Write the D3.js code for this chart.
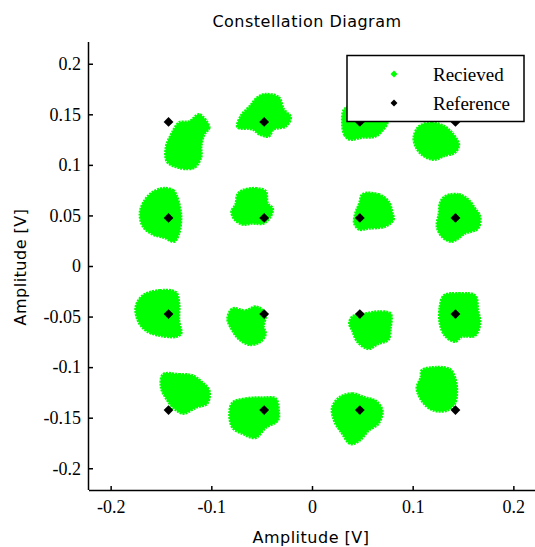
<!DOCTYPE html>
<html><head><meta charset="utf-8">
<script src="https://cdn.jsdelivr.net/npm/d3@7"></script>
<style>html,body{margin:0;padding:0;background:#fff;}</style>
</head><body>
<svg id="chart" width="535" height="547"></svg>
<script>
// Tick values
const xTicks = [-0.2, -0.1, 0, 0.1, 0.2];
const yTicks = [0.2, 0.15, 0.1, 0.05, 0, -0.05, -0.1, -0.15, -0.2];
const xTickLabels = ["-0.2", "-0.1", "0", "0.1", "0.2"];
const yTickLabels = ["0.2", "0.15", "0.1", "0.05", "0", "-0.05", "-0.1", "-0.15", "-0.2"];

// Reference constellation levels (16-QAM)
const refLevels = [-0.1425, -0.0475, 0.0475, 0.1425];

// Received clusters: outlines of the received point clouds [I, Q] in volts
const clusterA = [[-0.112,0.150],[-0.102,0.137],[-0.107,0.130],[-0.110,0.118],[-0.110,0.108],[-0.117,0.097],[-0.132,0.097],[-0.144,0.103],[-0.145,0.118],[-0.140,0.130],[-0.132,0.142],[-0.122,0.143]];
const clusterB = [[-0.046,0.170],[-0.033,0.167],[-0.028,0.155],[-0.021,0.147],[-0.026,0.138],[-0.038,0.135],[-0.043,0.128],[-0.052,0.130],[-0.059,0.135],[-0.074,0.137],[-0.071,0.148],[-0.062,0.158],[-0.054,0.167]];
const clusterC = [[-0.148,0.077],[-0.138,0.075],[-0.135,0.071],[-0.132,0.062],[-0.130,0.049],[-0.132,0.032],[-0.137,0.024],[-0.147,0.028],[-0.158,0.031],[-0.168,0.039],[-0.171,0.052],[-0.168,0.062],[-0.160,0.072]];
const clusterD = [[-0.069,0.075],[-0.056,0.077],[-0.046,0.074],[-0.044,0.062],[-0.039,0.057],[-0.041,0.049],[-0.048,0.042],[-0.059,0.042],[-0.069,0.041],[-0.077,0.046],[-0.080,0.054],[-0.076,0.061],[-0.074,0.071]];
const clusterE = [[0.030,0.142],[0.032,0.130],[0.037,0.125],[0.050,0.127],[0.063,0.128],[0.071,0.135],[0.075,0.142],[0.074,0.149],[0.064,0.157],[0.047,0.161],[0.032,0.155]];
const clusterF = [[0.106,0.138],[0.119,0.142],[0.132,0.138],[0.139,0.132],[0.146,0.120],[0.142,0.112],[0.132,0.109],[0.121,0.105],[0.109,0.110],[0.103,0.118],[0.101,0.127]];
const clusterG = [[0.050,0.071],[0.066,0.071],[0.076,0.064],[0.080,0.052],[0.081,0.046],[0.073,0.039],[0.056,0.037],[0.047,0.036],[0.042,0.042],[0.043,0.052],[0.047,0.062]];
const clusterH = [[0.132,0.069],[0.146,0.071],[0.155,0.066],[0.162,0.057],[0.167,0.049],[0.165,0.037],[0.152,0.032],[0.139,0.024],[0.129,0.029],[0.124,0.039],[0.126,0.052],[0.127,0.062]];
const clusterI = [[-0.168,-0.029],[-0.151,-0.024],[-0.135,-0.026],[-0.132,-0.037],[-0.132,-0.054],[-0.130,-0.067],[-0.135,-0.070],[-0.151,-0.069],[-0.165,-0.064],[-0.173,-0.054],[-0.175,-0.040]];
const clusterJ = [[-0.079,-0.042],[-0.066,-0.044],[-0.056,-0.040],[-0.046,-0.047],[-0.048,-0.060],[-0.046,-0.067],[-0.051,-0.075],[-0.062,-0.078],[-0.072,-0.073],[-0.079,-0.064],[-0.084,-0.052]];
const clusterK = [[-0.148,-0.107],[-0.132,-0.107],[-0.119,-0.108],[-0.109,-0.115],[-0.102,-0.123],[-0.104,-0.136],[-0.115,-0.140],[-0.128,-0.146],[-0.137,-0.141],[-0.145,-0.131],[-0.150,-0.120]];
const clusterL = [[-0.079,-0.135],[-0.066,-0.131],[-0.049,-0.130],[-0.036,-0.131],[-0.033,-0.143],[-0.034,-0.153],[-0.046,-0.160],[-0.056,-0.170],[-0.069,-0.166],[-0.079,-0.160],[-0.082,-0.146]];
const clusterM = [[0.040,-0.050],[0.053,-0.047],[0.066,-0.045],[0.078,-0.047],[0.078,-0.062],[0.076,-0.073],[0.066,-0.077],[0.056,-0.082],[0.045,-0.075],[0.040,-0.064],[0.037,-0.057]];
const clusterN = [[0.131,-0.029],[0.146,-0.027],[0.162,-0.029],[0.165,-0.044],[0.167,-0.057],[0.162,-0.069],[0.149,-0.070],[0.142,-0.075],[0.132,-0.069],[0.127,-0.057],[0.127,-0.040]];
const clusterO = [[0.109,-0.103],[0.122,-0.100],[0.137,-0.102],[0.142,-0.110],[0.144,-0.123],[0.142,-0.136],[0.134,-0.143],[0.121,-0.143],[0.111,-0.136],[0.104,-0.121],[0.108,-0.110]];
const clusterP = [[0.027,-0.130],[0.040,-0.126],[0.053,-0.130],[0.063,-0.133],[0.070,-0.143],[0.066,-0.156],[0.056,-0.163],[0.047,-0.173],[0.038,-0.176],[0.030,-0.166],[0.022,-0.153],[0.020,-0.140]];
const clusters = [clusterA,clusterB,clusterC,clusterD,clusterE,clusterF,clusterG,clusterH,clusterI,clusterJ,clusterK,clusterL,clusterM,clusterN,clusterO,clusterP];

const legendLabels = ["Recieved", "Reference"];
const title = "Constellation Diagram";
const xLabel = "Amplitude [V]";
const yLabel = "Amplitude [V]";

const svg = d3.select("#chart");
const lim = 0.2215;
const x = d3.scaleLinear().domain([-lim, lim]).range([89, 535]);
const y = d3.scaleLinear().domain([-lim, lim]).range([490, 42]);

// received clusters
const line = d3.line().x(d => x(d[0])).y(d => y(d[1])).curve(d3.curveCatmullRomClosed.alpha(0.5));
svg.append("g").selectAll("path").data(clusters).join("path")
  .attr("d", line)
  .attr("fill", "#00ff00")
  .attr("stroke", "#00ff00")
  .attr("stroke-width", 2.5)
  .attr("stroke-dasharray", "2,1");

// reference points
const refPts = [];
refLevels.forEach(i => refLevels.forEach(q => refPts.push([i, q])));
const diamond = d3.symbol().type(d3.symbolSquare).size(48);
svg.append("g").selectAll("path").data(refPts).join("path")
  .attr("d", diamond)
  .attr("transform", d => `translate(${x(d[0])},${y(d[1])}) rotate(45)`)
  .attr("fill", "#000");

// axes
const xAxis = d3.axisBottom(x).tickValues(xTicks).tickSize(-4).tickPadding(8)
  .tickFormat((d, i) => xTickLabels[i]);
const gx = svg.append("g").attr("transform", "translate(0,490)").call(xAxis);
gx.select(".domain").attr("d", "M89,0.5H535").attr("stroke", "#000").attr("stroke-width", 1.5);
gx.selectAll(".tick line").attr("stroke", "#000").attr("stroke-width", 1.5);
gx.selectAll(".tick text").attr("font-family", "Liberation Serif, serif").attr("font-size", 18)
  .attr("fill", "#000").attr("dy", "0.85em");

const yAxis = d3.axisLeft(y).tickValues(yTicks).tickSize(-4).tickPadding(8)
  .tickFormat((d, i) => yTickLabels[i]);
const gy = svg.append("g").attr("transform", "translate(89,0)").call(yAxis);
gy.select(".domain").attr("d", "M-0.5,42V490").attr("stroke", "#000").attr("stroke-width", 1.5);
gy.selectAll(".tick line").attr("stroke", "#000").attr("stroke-width", 1.5);
gy.selectAll(".tick text").attr("font-family", "Liberation Serif, serif").attr("font-size", 18)
  .attr("fill", "#000");

// title & labels
svg.append("text").attr("x", 307).attr("y", 27).attr("text-anchor", "middle")
  .attr("font-family", "DejaVu Sans, sans-serif").attr("font-size", 16).attr("letter-spacing", 0.5)
  .text(title);
svg.append("text").attr("x", 311).attr("y", 543).attr("text-anchor", "middle")
  .attr("font-family", "DejaVu Sans, sans-serif").attr("font-size", 16).attr("letter-spacing", 0.5)
  .text(xLabel);
svg.append("text").attr("transform", "translate(26,267) rotate(-90)").attr("text-anchor", "middle")
  .attr("font-family", "DejaVu Sans, sans-serif").attr("font-size", 16).attr("letter-spacing", 0.5)
  .text(yLabel);

// legend
const lg = svg.append("g");
lg.append("rect").attr("x", 347).attr("y", 55.5).attr("width", 177).attr("height", 66)
  .attr("fill", "#fff").attr("stroke", "#000").attr("stroke-width", 1.5);
const legendColors = ["#00ff00", "#000"];
const legendY = [74, 103];
const smallDiamond = d3.symbol().type(d3.symbolSquare).size(24);
legendLabels.forEach((lab, i) => {
  lg.append("path").attr("d", smallDiamond)
    .attr("transform", `translate(394,${legendY[i]}) rotate(45)`).attr("fill", legendColors[i]);
  lg.append("text").attr("x", 433).attr("y", legendY[i] + 6.5)
    .attr("font-family", "Liberation Serif, serif").attr("font-size", 19).attr("fill", "#000")
    .text(lab);
});
</script>
</body></html>
